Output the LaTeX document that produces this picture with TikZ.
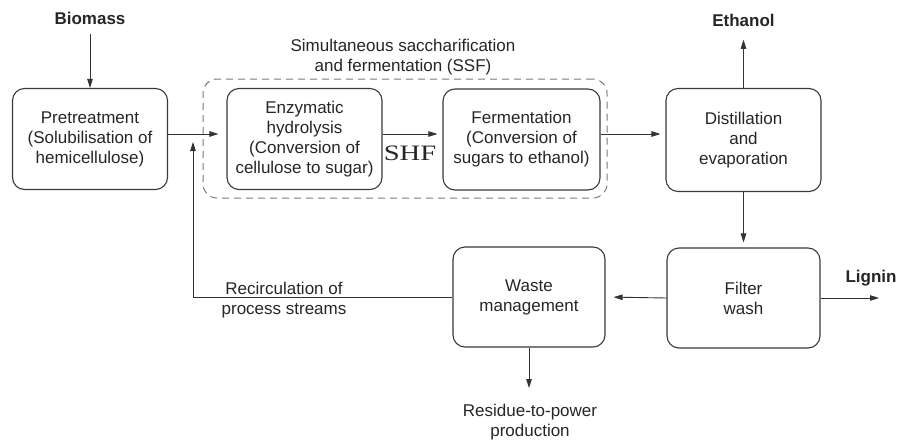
\documentclass[tikz,border=0pt]{standalone}
\usepackage{fontspec}
\setmainfont{Liberation Sans}
\newfontfamily\shffont{Liberation Serif}
\usetikzlibrary{arrows.meta}
\newcommand\dfont{\fontsize{17}{20}\selectfont}
\definecolor{boxc}{HTML}{3A3A3A}
\definecolor{linec}{HTML}{333333}
\definecolor{txt}{HTML}{262626}
\definecolor{dashc}{HTML}{7A7A7A}
\begin{document}
\begin{tikzpicture}[x=1pt,y=-1pt,
  box/.style={draw=boxc, line width=1.1pt, rounded corners=12pt, minimum width=155pt, minimum height=101pt, align=center, font=\dfont, text=txt, inner sep=0pt},
  ssfbox/.style={draw=dashc, line width=1pt, dash pattern=on 7pt off 5pt, rounded corners=14pt, inner sep=0pt},
  arr/.style={draw=linec, line width=0.9pt, -{Triangle[length=9pt,width=5.5pt]}},
  lbl/.style={font=\dfont, text=txt, align=center},
  blbl/.style={font=\dfont\bfseries, text=txt},
]
\fill[white] (0,0) rectangle (900,442);
\useasboundingbox (0,0) rectangle (900,442);

\node[ssfbox, minimum width=404pt, minimum height=119pt] (ssf) at (405,138.5) {};
\node[box] (pre) at (90,139) {Pretreatment\\(Solubilisation of\\hemicellulose)};
\node[box] (enz) at (304.5,139) {Enzymatic\\hydrolysis\\(Conversion of\\cellulose to sugar)};
\node[box, minimum width=157pt] (fer) at (521.5,139.5) {Fermentation\\(Conversion of\\sugars to ethanol)};
\node[box, minimum height=103pt] (dis) at (743.5,140) {Distillation\\and\\evaporation};
\node[box, minimum width=152pt, minimum height=100pt] (was) at (529,297) {Waste\\management};
\node[box, minimum width=153pt, minimum height=100pt] (fil) at (743.5,298) {Filter\\wash};

\node[blbl] (bio) at (90,18) {Biomass};
\node[blbl] (eth) at (743.5,20) {Ethanol};
\node[blbl] (lig) at (871,278) {Lignin};
\node[lbl] (ssft) at (403,57) {Simultaneous saccharification\\and fermentation (SSF)};
\node[lbl] (rec) at (284,300) {Recirculation of\\process streams};
\node[lbl] (res) at (530,422) {Residue-to-power\\production};
\node[text=txt, font=\shffont\fontsize{22}{22}\selectfont] (shf) at (410,153) {\scalebox{1.3}[1]{SHF}};

\coordinate (j) at (193,134);
\coordinate (bend) at (193,297);
\coordinate (ligend) at (879,298);
\coordinate (resend) at (529,388);

\draw[arr, shorten <=6pt] (bio.south) -- (pre.north);
\draw[arr, shorten >=8pt] (pre.east |- j) -- (enz.west |- j);
\draw[arr, shorten >=5pt] (enz.east |- j) -- (fer.west |- j);
\draw[arr, shorten >=5pt] (fer.east |- j) -- (dis.west |- j);
\draw[arr, shorten >=10pt] (dis.north) -- (eth.south);
\draw[arr, shorten >=5pt] (dis.south) -- (fil.north);
\draw[arr, shorten >=8pt] (fil.west) -- (was.east);
\draw[arr] (fil.east) -- (ligend);
\draw[arr] (was.south) -- (resend);
\draw[arr, shorten >=8pt] (was.west) -- (bend) -- (j);
\end{tikzpicture}
\end{document}
